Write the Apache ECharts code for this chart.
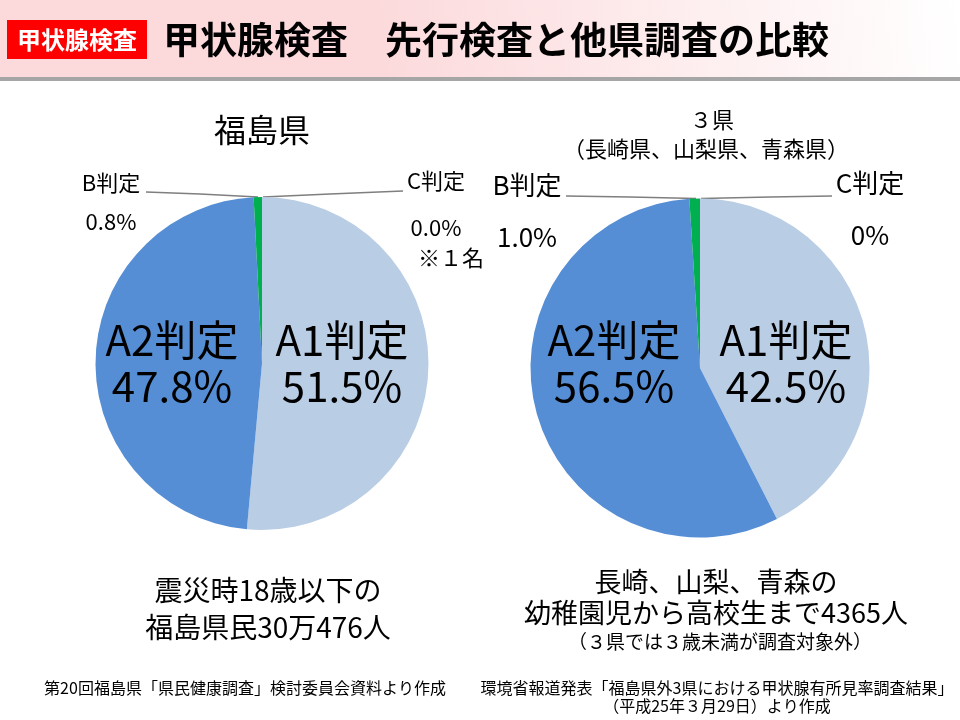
<!DOCTYPE html>
<html><head><meta charset="utf-8">
<script src="https://cdn.jsdelivr.net/npm/echarts@6/dist/echarts.min.js"></script>
<style>html,body{margin:0;padding:0;background:#fff}#main{width:960px;height:720px}</style>
</head><body><div id="main"></div>
<script>
// ---- data ----
const categories = ['A1判定', 'A2判定', 'B判定', 'C判定'];
const fukushimaValues = [51.5, 47.8, 0.8, 0.0];
const threePrefValues = [42.5, 56.5, 1.0, 0];
const fukushimaPctText = ['51.5%', '47.8%', '0.8%', '0.0%'];
const threePrefPctText = ['42.5%', '56.5%', '1.0%', '0%'];

// ---- styles / layout ----
const FONT = '"Noto Sans CJK JP", "Noto Sans", sans-serif';
const sliceColors = ['#B9CDE5', '#558ED5', '#00B050', '#7F7F7F'];
const leftCenter = [262, 363.5], leftR = 166.5;
const rightCenter = [700, 368], rightR = 169.5;

const layouts = [
  [
    { x: 342, y: 363, align: 'center', verticalAlign: 'middle' },
    { x: 172, y: 363, align: 'center', verticalAlign: 'middle' },
    { x: 111, y: 168, align: 'center', verticalAlign: 'top',
      labelLinePoints: [[leftCenter[0] - 4, leftCenter[1] - leftR], [200, 194], [146, 192]] },
    { x: 436, y: 166, align: 'center', verticalAlign: 'top',
      labelLinePoints: [[leftCenter[0] + 1, leftCenter[1] - leftR], [330, 194], [403, 191]] }
  ],
  [
    { x: 786, y: 363, align: 'center', verticalAlign: 'middle' },
    { x: 614, y: 363, align: 'center', verticalAlign: 'middle' },
    { x: 527, y: 170, align: 'center', verticalAlign: 'top',
      labelLinePoints: [[rightCenter[0] - 4, rightCenter[1] - rightR], [630, 197], [566, 196]] },
    { x: 870, y: 168, align: 'center', verticalAlign: 'top',
      labelLinePoints: [[rightCenter[0] + 1, rightCenter[1] - rightR], [770, 197], [832, 196]] }
  ]
];
const outsideGap = [[0, 0, 9, 17], [0, 0, 22, 22]];
const outsideFont = [22, 26];

function buildData(values, pctText, si) {
  return values.map(function (v, i) {
    const item = { name: categories[i], value: v, itemStyle: { color: sliceColors[i] } };
    if (i < 2) {
      item.label = {
        position: 'inside',
        formatter: categories[i] + '\n' + pctText[i],
        fontSize: 42, lineHeight: 46, color: '#000', fontFamily: FONT
      };
      item.labelLine = { show: false };
    } else {
      let f = '{n|' + categories[i] + '}\n{g| }\n{v|' + pctText[i] + '}';
      if (si === 0 && i === 3) f += '\n{s|※１名}';
      const fs = outsideFont[si];
      item.label = {
        position: 'outside',
        formatter: f,
        color: '#000', fontFamily: FONT,
        rich: {
          n: { fontSize: fs, lineHeight: 30, fontFamily: FONT, color: '#000' },
          g: { fontSize: 2, lineHeight: outsideGap[si][i], fontFamily: FONT },
          v: { fontSize: fs, lineHeight: 30, fontFamily: FONT, color: '#000' },
          s: { fontSize: fs, lineHeight: 30, fontFamily: FONT, color: '#000', padding: [0, 0, 0, 30] }
        }
      };
      item.labelLine = { show: true, lineStyle: { color: '#7F7F7F', width: 1.5 } };
    }
    return item;
  });
}

function pieSeries(values, pctText, si, center, r) {
  return {
    type: 'pie',
    center: center,
    radius: r,
    startAngle: 90,
    clockwise: true,
    avoidLabelOverlap: false,
    silent: true,
    itemStyle: { borderWidth: 0 },
    emphasis: { disabled: true },
    data: buildData(values, pctText, si),
    labelLayout: function (p) { return layouts[si][p.dataIndex]; }
  };
}

function txt(x, y, text, font, extra) {
  return Object.assign({ type: 'text', x: x, y: y, silent: true,
    style: { text: text, fill: '#000', font: font + ' ' + FONT, align: 'center', verticalAlign: 'middle' } }, extra || {});
}

const graphic = [
  { type: 'rect', shape: { x: 0, y: 0, width: 960, height: 78 }, silent: true,
    style: { fill: new echarts.graphic.LinearGradient(1, 0, 0.4, 1, [
      { offset: 0, color: '#FFFFFF' }, { offset: 1, color: '#FCDADC' }]) } },
  { type: 'rect', shape: { x: 0, y: 77, width: 960, height: 4 }, silent: true, style: { fill: '#A6A6A6' } },
  { type: 'rect', shape: { x: 7, y: 20, width: 140, height: 39 }, silent: true, style: { fill: '#FF0000' } },
  { type: 'text', x: 77, y: 40, silent: true,
    style: { text: '甲状腺検査', fill: '#fff', font: 'bold 24px ' + FONT, align: 'center', verticalAlign: 'middle' } },
  { type: 'text', x: 163, y: 40, silent: true,
    style: { text: '甲状腺検査　先行検査と他県調査の比較', fill: '#000', font: 'bold 37px ' + FONT, align: 'left', verticalAlign: 'middle' } },
  txt(262, 130, '福島県', '32px'),
  txt(712, 120, '３県', '22px'),
  txt(706, 149, '（長崎県、山梨県、青森県）', '22px'),
  txt(268, 590, '震災時18歳以下の', '28px'),
  txt(268, 627, '福島県民30万476人', '28px'),
  txt(716, 582, '長崎、山梨、青森の', '27px'),
  txt(716, 613, '幼稚園児から高校生まで4365人', '27px'),
  txt(720, 642, '（３県では３歳未満が調査対象外）', '19px'),
  txt(245, 688, '第20回福島県「県民健康調査」検討委員会資料より作成', '16px'),
  txt(717, 688, '環境省報道発表「福島県外3県における甲状腺有所見率調査結果」', '16px'),
  txt(717, 706, '（平成25年３月29日）より作成', '16px')
];

const chart = echarts.init(document.getElementById('main'), null, { renderer: 'canvas' });
chart.setOption({
  animation: false,
  backgroundColor: '#fff',
  textStyle: { fontFamily: FONT },
  graphic: graphic,
  series: [
    pieSeries(fukushimaValues, fukushimaPctText, 0, leftCenter, leftR),
    pieSeries(threePrefValues, threePrefPctText, 1, rightCenter, rightR)
  ]
});
</script></body></html>
